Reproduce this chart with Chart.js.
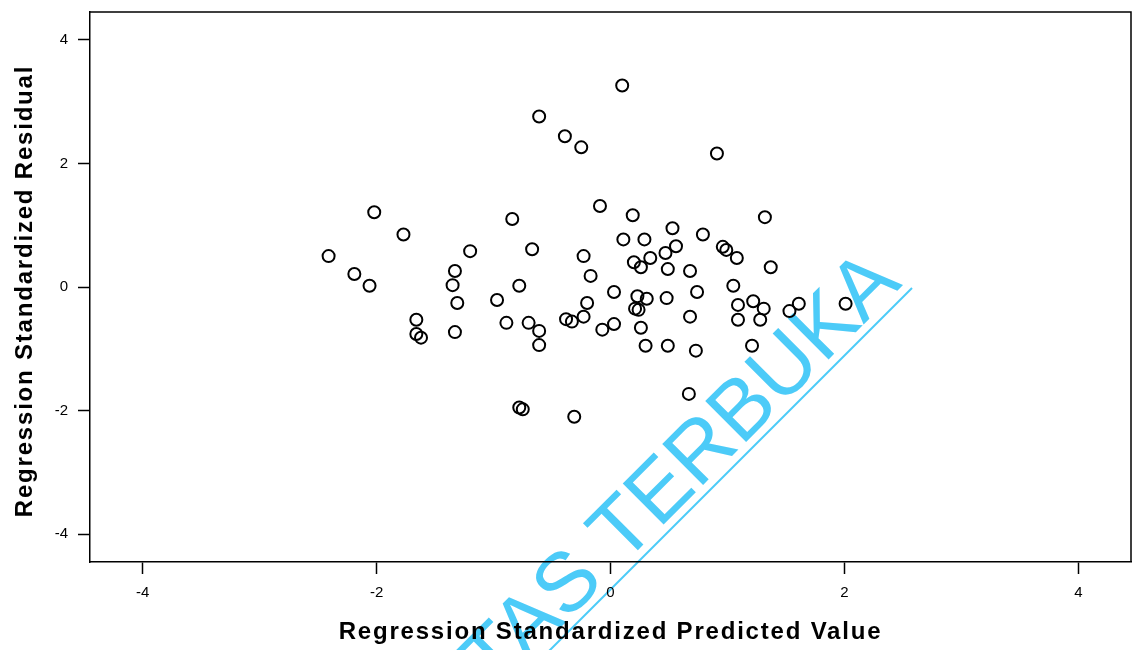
<!DOCTYPE html>
<html>
<head>
<meta charset="utf-8">
<title>Scatterplot</title>
<script src="https://cdn.jsdelivr.net/npm/chart.js@4.4.1/dist/chart.umd.min.js"></script>
<style>
  body { margin: 0; background: #fff; }
  #scatter { display: block; }
</style>
</head>
<body>
<canvas id="scatter" width="1132" height="650"></canvas>
<script>
// values
const predicted = [
  -2.41, -2.19, -2.06, -2.02, -1.77, -1.66, -1.66, -1.62, -1.33, -1.35,
  -1.31, -1.33, -1.20, -0.97, -0.89, -0.84, -0.78, -0.78, -0.75, -0.70,
  -0.67, -0.61, -0.61, -0.61, -0.39, -0.38, -0.33, -0.31, -0.25, -0.23,
  -0.23, -0.20, -0.17, -0.09, -0.07, 0.03, 0.03, 0.10, 0.11, 0.19,
  0.20, 0.23, 0.21, 0.24, 0.26, 0.26, 0.29, 0.31, 0.30, 0.34,
  0.47, 0.49, 0.48, 0.49, 0.53, 0.56, 0.67, 0.68, 0.68, 0.73,
  0.74, 0.79, 0.91, 0.96, 0.99, 1.05, 1.08, 1.09, 1.09, 1.21,
  1.22, 1.28, 1.31, 1.32, 1.37, 1.53, 1.61, 2.01,
];
const residual = [
  0.50, 0.21, 0.02, 1.21, 0.85, -0.53, -0.76, -0.82, 0.26, 0.03,
  -0.26, -0.73, 0.58, -0.21, -0.58, 1.10, 0.02, -1.95, -1.98, -0.58,
  0.61, 2.76, -0.71, -0.94, 2.44, -0.52, -0.56, -2.10, 2.26, 0.50,
  -0.48, -0.26, 0.18, 1.31, -0.69, -0.60, -0.08, 3.26, 0.77, 1.16,
  0.40, -0.15, -0.35, -0.37, 0.32, -0.66, 0.77, -0.19, -0.95, 0.47,
  0.55, 0.29, -0.18, -0.95, 0.95, 0.66, -1.73, 0.26, -0.48, -1.03,
  -0.08, 0.85, 2.16, 0.65, 0.60, 0.02, 0.47, -0.29, -0.53, -0.95,
  -0.23, -0.53, -0.35, 1.13, 0.32, -0.39, -0.27, -0.27,
];
const axisMin = -4.45;
const axisMax = 4.45;
const tickStep = 2;
const xTitle = "Regression Standardized Predicted Value";
const yTitle = "Regression Standardized Residual";
const watermark = "UNIVERSITAS TERBUKA";

const points = predicted.map((x, i) => ({ x: x, y: residual[i] }));

const fontFamily = "'Liberation Sans', Arial, sans-serif";
const tickFont = { family: fontFamily, size: 15 };

// white page, closed frame, axis titles (spaced out like the scan) and the blue stamp
const framePlugin = {
  id: "frame",
  beforeDraw: (chart) => {
    const ctx = chart.ctx;
    ctx.save();
    ctx.fillStyle = "#fff";
    ctx.fillRect(0, 0, chart.width, chart.height);
    ctx.restore();
  },
  afterDraw: (chart) => {
    const ctx = chart.ctx;
    const a = chart.chartArea;
    ctx.save();
    ctx.strokeStyle = "#000";
    ctx.lineWidth = 1.5;
    ctx.beginPath();
    ctx.moveTo(a.left, a.top);
    ctx.lineTo(a.right, a.top);
    ctx.lineTo(a.right, a.bottom);
    ctx.stroke();

    ctx.fillStyle = "#000";
    ctx.font = "bold 24px " + fontFamily;
    ctx.letterSpacing = "1.8px";
    ctx.textAlign = "center";
    ctx.textBaseline = "middle";
    ctx.fillText(xTitle, (a.left + a.right) / 2, 632);
    ctx.save();
    ctx.translate(25, 291);
    ctx.rotate(-Math.PI / 2);
    ctx.fillText(yTitle, 0, 0);
    ctx.restore();
    ctx.letterSpacing = "0px";

    ctx.globalCompositeOperation = "multiply";
    ctx.strokeStyle = "#4ccbf8";
    ctx.fillStyle = "#4ccbf8";
    ctx.lineWidth = 2;
    ctx.beginPath();
    ctx.moveTo(912, 288);
    ctx.lineTo(500, 700);
    ctx.stroke();

    ctx.translate(903, 285);
    ctx.rotate(-Math.PI / 4);
    ctx.font = "84px " + fontFamily;
    ctx.textAlign = "right";
    ctx.textBaseline = "alphabetic";
    ctx.fillText(watermark, 0, 0);
    ctx.restore();
  },
};

const axis = () => ({
  type: "linear",
  min: axisMin,
  max: axisMax,
  ticks: {
    stepSize: tickStep,
    includeBounds: false,
    color: "#000",
    font: tickFont,
    padding: 10,
  },
  grid: {
    display: true,
    drawOnChartArea: false,
    drawTicks: true,
    tickLength: 12,
    tickColor: "#000",
    tickWidth: 1.5,
  },
  border: { display: true, color: "#000", width: 1.5 },
  title: { display: false },
});

const xAxis = axis();
xAxis.afterFit = (scale) => {
  scale.height = 88;
  scale.paddingLeft = 0;
  scale.paddingRight = 0;
};
const yAxis = axis();
yAxis.afterFit = (scale) => {
  scale.width = 90;
  scale.paddingTop = 0;
  scale.paddingBottom = 0;
};

new Chart(document.getElementById("scatter").getContext("2d"), {
  type: "scatter",
  data: {
    datasets: [
      {
        label: "Residual",
        data: points,
        pointStyle: "circle",
        pointRadius: 6,
        pointBorderWidth: 2,
        pointBorderColor: "#000",
        pointBackgroundColor: "rgba(0,0,0,0)",
      },
    ],
  },
  options: {
    responsive: false,
    animation: false,
    layout: { autoPadding: false, padding: { top: 12, right: 1, left: 0, bottom: 0 } },
    scales: { x: xAxis, y: yAxis },
    plugins: {
      legend: { display: false },
      tooltip: { enabled: false },
    },
  },
  plugins: [framePlugin],
});
</script>
</body>
</html>
